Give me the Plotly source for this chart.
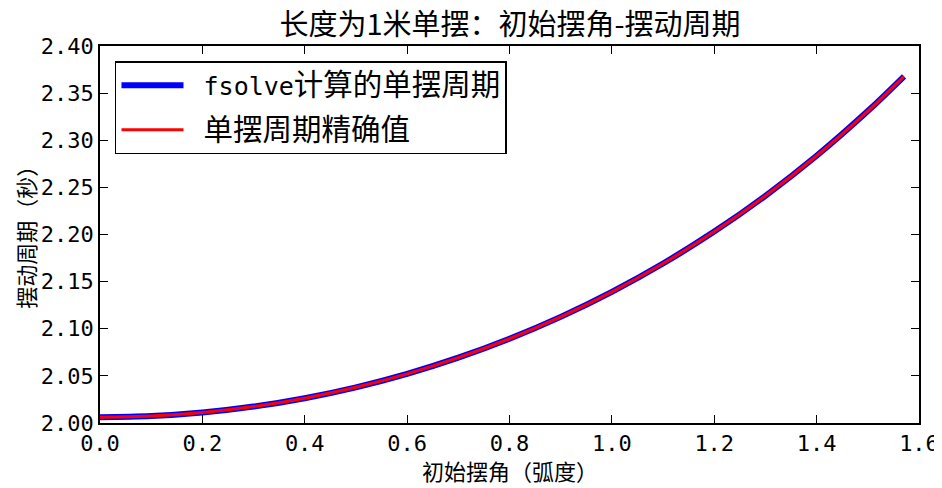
import plotly.graph_objects as go

# initial swing angle (rad) and pendulum period (s)
angles = [0.0, 0.1, 0.2, 0.3, 0.4, 0.5, 0.6, 0.7, 0.8, 0.9, 1.0, 1.1, 1.2, 1.3, 1.4, 1.5, 1.5708]
period_fsolve = [2.00607, 2.00732, 2.01109, 2.01741, 2.02632, 2.03787, 2.05216, 2.06929, 2.08939,
                 2.11259, 2.13914, 2.16922, 2.20308, 2.24107, 2.28356, 2.33098, 2.36784]
period_exact = [2.00607, 2.00732, 2.01109, 2.01741, 2.02632, 2.03787, 2.05216, 2.06929, 2.08939,
                2.11259, 2.13914, 2.16922, 2.20308, 2.24107, 2.28356, 2.33098, 2.36784]
x_ticks = [0.0, 0.2, 0.4, 0.6, 0.8, 1.0, 1.2, 1.4, 1.6]
y_ticks = [2.00, 2.05, 2.10, 2.15, 2.20, 2.25, 2.30, 2.35, 2.40]

mono = "DejaVu Sans Mono, Noto Sans CJK SC"
cjk = "Noto Sans CJK SC, DejaVu Sans"

fig = go.Figure()
fig.add_trace(go.Scatter(x=angles, y=period_fsolve, mode="lines", line=dict(color="#0000ff", width=6, shape="spline"),
                         name="&nbsp;fsolve<span style='font-size:29.5px'>计算的单摆周期</span>", legendgroup="a"))
fig.add_trace(go.Scatter(x=angles, y=period_exact, mode="lines", line=dict(color="#ff0000", width=3, shape="spline"),
                         name="&nbsp;<span style='font-size:29.5px'>单摆周期精确值</span>", legendgroup="b"))

axis_common = dict(showgrid=False, zeroline=False, showline=True, linecolor="black", linewidth=1.5,
                   mirror="ticks", ticks="inside", ticklen=8, tickwidth=1, tickcolor="black",
                   automargin=False,
                   tickfont=dict(family=mono, size=22, color="black"))
fig.update_xaxes(range=[0, 1.6], tickvals=x_ticks, ticktext=[f"{v:.1f}" for v in x_ticks], **axis_common)
fig.update_yaxes(range=[2.0, 2.4], tickvals=y_ticks, ticktext=[f"{v:.2f}" for v in y_ticks], **axis_common)

fig.add_annotation(text="初始摆角（弧度）", xref="paper", yref="paper", x=0.5, y=-0.1247,
                   xanchor="center", yanchor="middle", showarrow=False,
                   font=dict(family=cjk, size=22, color="black"))
fig.add_annotation(text="摆动周期（秒）", xref="paper", yref="paper", x=-0.0916, y=0.507,
                   xanchor="center", yanchor="middle", showarrow=False, textangle=-90,
                   font=dict(family=cjk, size=22, color="black"))

fig.update_layout(
    width=934, height=480,
    margin=dict(l=92, r=23, t=38, b=65),
    paper_bgcolor="white", plot_bgcolor="white",
    title=dict(text="长度为1米单摆：初始摆角-摆动周期", x=0.5375, xanchor="center", y=0.964, yanchor="middle",
               font=dict(family=cjk, size=29, color="black")),
    legend=dict(x=0.0183, y=0.96, xanchor="left", yanchor="top", bordercolor="black", borderwidth=1.5,
                bgcolor="white", font=dict(family=mono, size=25, color="black"),
                itemwidth=62, tracegroupgap=9),
    showlegend=True,
)

fig.write_html("out.html")
